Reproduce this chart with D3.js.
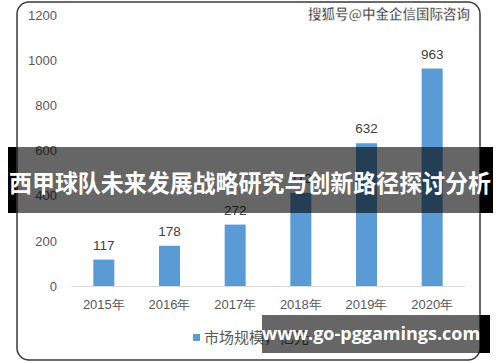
<!DOCTYPE html>
<html lang="zh">
  <head>
    <meta charset="utf-8">
    <script src="https://cdn.jsdelivr.net/npm/d3@7"></script>
    <style>
      body {
        margin: 0;
        background: #fff;
      }
      svg {
        display: block;
        font-family: 'Noto Sans CJK SC', 'Noto Sans', sans-serif;
      }
    </style>
  </head>
  <body>
    <svg id="chart"></svg>
  </body>
  <script>
    // Data
    const years = ['2015年', '2016年', '2017年', '2018年', '2019年', '2020年'];
    const values = [117, 178, 272, 412, 632, 963];
    const yTicks = [0, 200, 400, 600, 800, 1000, 1200];
    const legendLabel = '市场规模，亿元';
    const title = '西甲球队未来发展战略研究与创新路径探讨分析';
    const watermark = '搜狐号@中金企信国际咨询';
    const site = 'www.go-pggamings.com';

    const width = 500;
    const height = 362;
    const svg = d3.select('#chart')
        .attr('width', width)
        .attr('height', height);

    // Chart frame
    svg.append('rect')
        .attr('x', 17).attr('y', 2)
        .attr('width', 463).attr('height', 358)
        .attr('rx', 12)
        .attr('fill', '#fff')
        .attr('stroke', '#3a3a3a')
        .attr('stroke-width', 1.5);

    const x = d3.scaleBand()
        .domain(years)
        .range([71, 465])
        .paddingInner(0.68)
        .paddingOuter(0.34);

    const y = d3.scaleLinear()
        .domain([0, 1200])
        .range([286, 15]);

    // Y axis labels
    const yAxis = svg.append('g')
        .attr('transform', 'translate(57,0)')
        .call(d3.axisLeft(y).tickValues(yTicks).tickFormat(d3.format('d')).tickSize(0).tickPadding(0));
    yAxis.select('.domain').remove();
    yAxis.selectAll('text')
        .attr('font-size', 13)
        .attr('fill', '#595959')
        .attr('font-family', 'Liberation Sans, Noto Sans, sans-serif');

    // Bars
    svg.selectAll('rect.bar')
        .data(values)
      .enter().append('rect')
        .attr('class', 'bar')
        .attr('x', (d, i) => x(years[i]))
        .attr('y', d => y(d))
        .attr('width', x.bandwidth())
        .attr('height', d => y(0) - y(d))
        .attr('fill', '#5b9bd5');

    // Value labels
    svg.selectAll('text.val')
        .data(values)
      .enter().append('text')
        .attr('class', 'val')
        .attr('x', (d, i) => x(years[i]) + x.bandwidth() / 2)
        .attr('y', d => y(d) - 10)
        .attr('text-anchor', 'middle')
        .attr('font-size', 13.5)
        .attr('fill', '#404040')
        .attr('font-family', 'Liberation Sans, Noto Sans, sans-serif')
        .text(d => d);

    // X axis
    const xAxis = svg.append('g')
        .attr('transform', 'translate(0,286)')
        .call(d3.axisBottom(x).tickSize(0).tickPadding(14));
    xAxis.select('.domain')
        .attr('stroke', '#d9d9d9')
        .attr('stroke-width', 1.2);
    xAxis.selectAll('text')
        .attr('font-size', 13)
        .attr('fill', '#595959');

    // Legend
    svg.append('rect')
        .attr('x', 193).attr('y', 334)
        .attr('width', 7).attr('height', 7)
        .attr('fill', '#5b9bd5');
    svg.append('text')
        .attr('x', 204).attr('y', 343)
        .attr('font-size', 15)
        .attr('fill', '#595959')
        .text(legendLabel);

    // Watermark top right
    svg.append('text')
        .attr('x', 470).attr('y', 19)
        .attr('text-anchor', 'end')
        .attr('font-size', 13.5)
        .attr('font-weight', 700)
        .attr('fill', '#444')
        .attr('stroke', '#fff')
        .attr('stroke-width', 0.4)
        .text(watermark);

    // Title banner: black edges, translucent middle
    svg.append('rect')
        .attr('x', 8).attr('y', 147)
        .attr('width', 8).attr('height', 66)
        .attr('fill', '#000');
    svg.append('rect')
        .attr('x', 480).attr('y', 147)
        .attr('width', 13).attr('height', 66)
        .attr('fill', '#000');
    svg.append('rect')
        .attr('x', 16).attr('y', 147)
        .attr('width', 464).attr('height', 66)
        .attr('fill', 'rgba(0,0,0,0.6)');
    svg.append('text')
        .attr('x', 250).attr('y', 192)
        .attr('text-anchor', 'middle')
        .attr('font-size', 24)
        .attr('font-weight', 700)
        .attr('fill', '#fff')
        .attr('textLength', 482)
        .attr('lengthAdjust', 'spacingAndGlyphs')
        .text(title);

    // Site banner bottom right
    svg.append('rect')
        .attr('x', 480).attr('y', 315)
        .attr('width', 10).attr('height', 38)
        .attr('fill', '#000');
    svg.append('rect')
        .attr('x', 262).attr('y', 315)
        .attr('width', 218).attr('height', 38)
        .attr('fill', 'rgba(0,0,0,0.6)');
    svg.append('text')
        .attr('x', 371).attr('y', 340)
        .attr('text-anchor', 'middle')
        .attr('font-size', 18)
        .attr('font-weight', 700)
        .attr('fill', '#fff')
        .attr('font-family', 'Open Sans, Noto Sans, sans-serif')
        .text(site);
  </script>
</html>
